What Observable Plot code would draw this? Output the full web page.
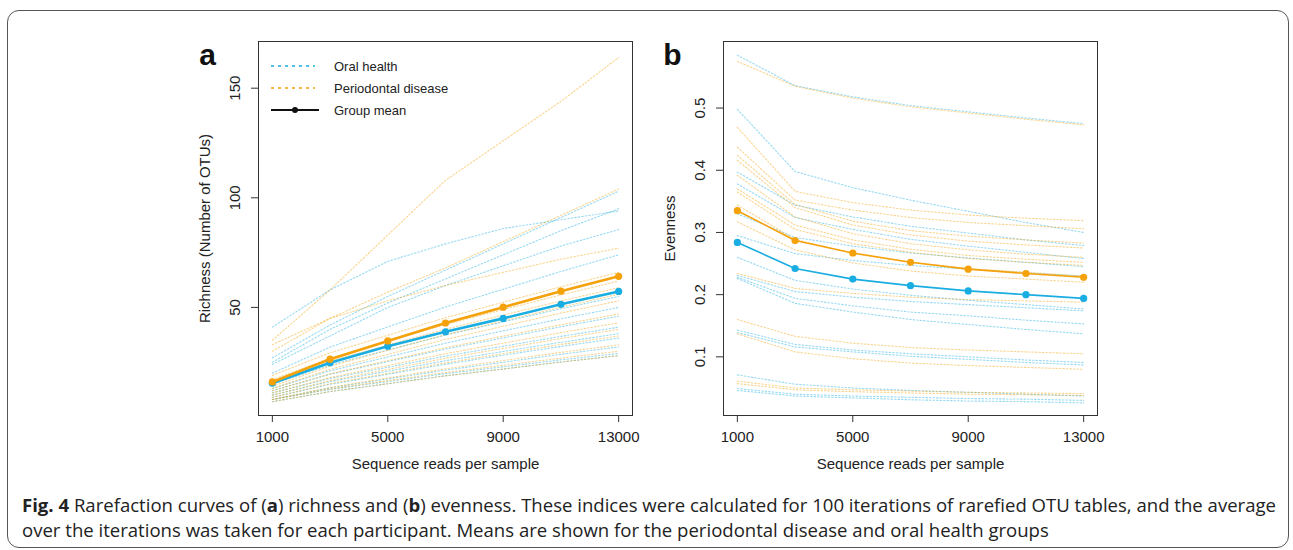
<!DOCTYPE html>
<html><head><meta charset="utf-8">
<script src="https://cdn.jsdelivr.net/npm/d3@7"></script>
<script src="https://cdn.jsdelivr.net/npm/@observablehq/plot@0.6"></script>
<style>
body{margin:0;background:#fff;}
#fig{position:relative;width:1293px;height:550px;overflow:hidden;font-family:"Liberation Sans",Arial,sans-serif;}
#border{position:absolute;left:7px;top:10px;width:1280px;height:536px;border:1px solid #555;border-radius:12px;}
.panel{position:absolute;top:0;}
#cap{position:absolute;left:22px;top:493px;font-family:"Liberation Sans Narrow","Open Sans",sans-serif;font-size:17.5px;color:#222;line-height:25px;}
#cap span{display:block;white-space:nowrap;transform-origin:left center;}
#legend{position:absolute;left:258px;top:41px;}
</style></head>
<body><div id="fig"><div id="border"></div>
<div id="pa" class="panel" style="left:180px"></div>
<div id="pb" class="panel" style="left:640px"></div>
<svg id="legend" width="220" height="90"></svg>
<div id="cap"><span id="l1"><b>Fig. 4</b> Rarefaction curves of (<b>a</b>) richness and (<b>b</b>) evenness. These indices were calculated for 100 iterations of rarefied OTU tables, and the average</span><span id="l2">over the iterations was taken for each participant. Means are shown for the periodontal disease and oral health groups</span></div>
</div>
<script>
const depths = [1000, 3000, 5000, 7000, 9000, 11000, 13000];
const xTicks = [1000, 5000, 9000, 13000];
const richTicks = [50, 100, 150];
const evenTicks = [0.1, 0.2, 0.3, 0.4, 0.5];
const groups = ["Oral health", "Periodontal disease"];
const groupColors = ["#1AADE2", "#F5A10A"];

// Richness per participant (values at each depth)
const richOral = [
  [41, 58, 71, 79, 86, 90, 94],
  [27, 42, 55, 67, 79, 91, 103],
  [25, 40, 52, 63, 74, 85, 95],
  [24, 37, 50, 60, 69, 78, 85.5],
  [20, 31.9, 41.1, 50.2, 58.3, 66.4, 74],
  [15, 23.8, 30.6, 37.4, 43.4, 49.4, 55],
  [13, 21.1, 27.4, 33.7, 39.3, 44.8, 50],
  [12, 19.5, 25.3, 31.0, 36.1, 41.2, 46],
  [11, 17.6, 22.7, 27.8, 32.3, 36.8, 41],
  [10, 16.2, 20.9, 25.7, 29.9, 34.1, 38],
  [9, 14.9, 19.5, 24.1, 28.2, 32.2, 36],
  [8, 13.3, 17.4, 21.4, 25.0, 28.6, 32],
  [7, 11.6, 15.2, 18.8, 21.9, 25.1, 28],
  [8, 12.6, 16.2, 19.8, 22.9, 26.1, 29]
];
const richPerio = [
  [35, 58, 83, 108, 126, 144, 164],
  [30, 45, 57, 68, 80, 92, 104],
  [33, 45, 53, 60, 66, 72, 77],
  [19, 29.3, 37.3, 45.3, 52.4, 59.4, 66],
  [17, 26.9, 34.6, 42.2, 49.0, 55.7, 62],
  [16, 25.5, 32.8, 40.1, 46.5, 53.0, 59],
  [14, 23.2, 30.4, 37.5, 43.8, 50.1, 56],
  [13, 21.8, 28.6, 35.4, 41.4, 47.4, 53],
  [12, 19.7, 25.7, 31.6, 36.9, 42.1, 47],
  [11, 18.0, 23.5, 28.9, 33.7, 38.5, 43],
  [10, 16.6, 21.7, 26.8, 31.3, 35.8, 40],
  [9, 15.2, 19.9, 24.7, 28.9, 33.1, 37],
  [8, 13.5, 17.8, 22.0, 25.8, 29.5, 33],
  [8, 12.8, 16.6, 20.3, 23.6, 26.9, 30],
  [7, 11.6, 15.2, 18.8, 21.9, 25.1, 28]
];
const richMeanOral = [15.4, 24.8, 32.3, 38.9, 45.0, 51.4, 57.3];
const richMeanPerio = [16.0, 26.4, 34.7, 42.9, 50.1, 57.4, 64.2];

// Evenness per participant
const evenOral = [
  [0.585, 0.536, 0.518, 0.504, 0.494, 0.484, 0.475],
  [0.498, 0.398, 0.372, 0.352, 0.334, 0.316, 0.300],
  [0.397, 0.344, 0.325, 0.310, 0.299, 0.288, 0.279],
  [0.378, 0.324, 0.305, 0.289, 0.278, 0.268, 0.258],
  [0.330, 0.292, 0.278, 0.267, 0.259, 0.252, 0.245],
  [0.295, 0.266, 0.255, 0.247, 0.241, 0.235, 0.230],
  [0.260, 0.223, 0.209, 0.199, 0.191, 0.184, 0.177],
  [0.231, 0.205, 0.196, 0.189, 0.184, 0.179, 0.174],
  [0.228, 0.194, 0.182, 0.172, 0.166, 0.159, 0.153],
  [0.226, 0.186, 0.172, 0.160, 0.152, 0.144, 0.137],
  [0.143, 0.120, 0.111, 0.105, 0.100, 0.095, 0.091],
  [0.139, 0.116, 0.108, 0.101, 0.096, 0.091, 0.087],
  [0.071, 0.056, 0.050, 0.046, 0.043, 0.040, 0.037],
  [0.049, 0.040, 0.037, 0.035, 0.033, 0.032, 0.030],
  [0.046, 0.037, 0.034, 0.031, 0.029, 0.028, 0.026]
];
const evenPerio = [
  [0.575, 0.535, 0.516, 0.502, 0.492, 0.482, 0.473],
  [0.469, 0.366, 0.348, 0.336, 0.328, 0.323, 0.319],
  [0.437, 0.352, 0.336, 0.324, 0.316, 0.311, 0.306],
  [0.424, 0.345, 0.318, 0.303, 0.294, 0.288, 0.283],
  [0.416, 0.340, 0.312, 0.296, 0.286, 0.280, 0.275],
  [0.392, 0.325, 0.298, 0.282, 0.272, 0.265, 0.260],
  [0.370, 0.312, 0.288, 0.273, 0.263, 0.257, 0.252],
  [0.365, 0.305, 0.282, 0.268, 0.258, 0.252, 0.247],
  [0.344, 0.289, 0.266, 0.252, 0.242, 0.236, 0.230],
  [0.317, 0.272, 0.251, 0.238, 0.230, 0.225, 0.220],
  [0.234, 0.210, 0.202, 0.196, 0.192, 0.190, 0.188],
  [0.160, 0.133, 0.122, 0.115, 0.111, 0.108, 0.105],
  [0.137, 0.108, 0.097, 0.090, 0.086, 0.083, 0.080],
  [0.061, 0.050, 0.047, 0.045, 0.043, 0.042, 0.041],
  [0.057, 0.047, 0.044, 0.042, 0.040, 0.039, 0.038]
];
const evenMeanOral = [0.284, 0.242, 0.225, 0.2145, 0.206, 0.200, 0.194];
const evenMeanPerio = [0.335, 0.287, 0.267, 0.252, 0.241, 0.234, 0.228];

function toLong(oral, perio) {
  const out = [];
  [oral, perio].forEach((set, g) => set.forEach((vals, i) => vals.forEach((v, j) =>
    out.push({group: groups[g], id: groups[g] + i, depth: depths[j], value: v}))));
  return out;
}
function meanLong(mo, mp) {
  const out = [];
  [mo, mp].forEach((vals, g) => vals.forEach((v, j) => out.push({group: groups[g], depth: depths[j], value: v})));
  return out;
}

function panel(opts) {
  const {long, means, yDomain, yTicks, yFmt, ylab, letter, marginLeft, width, meanWidth} = opts;
  return Plot.plot({
    width, height: 480, marginLeft, marginRight: width - marginLeft - 374, marginTop: 41, marginBottom: 65,
    style: {fontFamily: "'Liberation Sans', Arial, sans-serif", fontSize: "15px", color: "#222", background: "transparent"},
    x: {domain: [520, 13480]},
    y: {domain: yDomain},
    color: {domain: groups, range: groupColors},
    marks: [
      Plot.line(long, {x: "depth", y: "value", z: "id", stroke: "group", strokeWidth: 1.1, strokeOpacity: 0.45, strokeDasharray: "1.5,2"}),
      Plot.line(means, {x: "depth", y: "value", z: "group", stroke: "group", strokeWidth: meanWidth}),
      Plot.dot(means, {x: "depth", y: "value", fill: "group", r: 3.6}),
      Plot.frame({stroke: "#333", strokeWidth: 1}),
      Plot.axisX({ticks: xTicks, tickSize: 7, tickPadding: 9, tickFormat: d => String(d), label: null, stroke: "#333"}),
      Plot.axisY({ticks: yTicks, tickSize: 7, tickFormat: () => "", label: null, stroke: "#333"}),
      Plot.text(yTicks, {y: d => d, text: yFmt, frameAnchor: "left", textAnchor: "middle", dx: -23, rotate: -90, fontSize: 15, fill: "#222"}),
      Plot.text([ylab], {text: d => d, frameAnchor: "left", textAnchor: "middle", dx: -53, rotate: -90, fontSize: 15, fill: "#222"}),
      Plot.text(["Sequence reads per sample"], {text: d => d, frameAnchor: "bottom", dy: 53, fontSize: 15, fill: "#222"}),
      Plot.text([letter], {text: d => d, frameAnchor: "top-left", textAnchor: "middle", dx: -51, dy: 2, fontSize: 30, fontWeight: "bold", fill: "#111"})
    ]
  });
}

document.getElementById("pa").append(panel({
  long: toLong(richOral, richPerio), means: meanLong(richMeanOral, richMeanPerio),
  yDomain: [0.7, 171.3], yTicks: richTicks, yFmt: d => String(d),
  ylab: "Richness (Number of OTUs)", letter: "a", marginLeft: 78, width: 460, meanWidth: 2.6
}));
document.getElementById("pb").append(panel({
  long: toLong(evenOral, evenPerio), means: meanLong(evenMeanOral, evenMeanPerio),
  yDomain: [0.0057, 0.607], yTicks: evenTicks, yFmt: d => d.toFixed(1),
  ylab: "Evenness", letter: "b", marginLeft: 83, width: 465, meanWidth: 1.6
}));

// legend
const leg = d3.select("#legend");
const items = [
  {label: "Oral health", color: groupColors[0], dash: "3,4", w: 1.3, dot: false},
  {label: "Periodontal disease", color: groupColors[1], dash: "3,4", w: 1.3, dot: false},
  {label: "Group mean", color: "#111", dash: null, w: 2, dot: true}
];
items.forEach((it, i) => {
  const y = 25 + i * 22;
  leg.append("line").attr("x1", 13).attr("x2", it.dot ? 61 : 57).attr("y1", y).attr("y2", y)
    .attr("stroke", it.color).attr("stroke-width", it.w).attr("stroke-dasharray", it.dash);
  if (it.dot) leg.append("circle").attr("cx", 37).attr("cy", y).attr("r", 3).attr("fill", "#111");
  leg.append("text").attr("x", 76).attr("y", y).attr("dy", "0.35em").attr("font-size", 13)
    .attr("font-family", "'Liberation Sans', Arial, sans-serif").attr("fill", "#222").text(it.label);
});

// fit caption lines
const l1 = document.getElementById("l1"), l2 = document.getElementById("l2");
const w1 = l1.getBoundingClientRect().width;
const s = 1254 / w1;
l1.style.transform = `scaleX(${s})`;
l2.style.transform = `scaleX(${s})`;
</script></body></html>
